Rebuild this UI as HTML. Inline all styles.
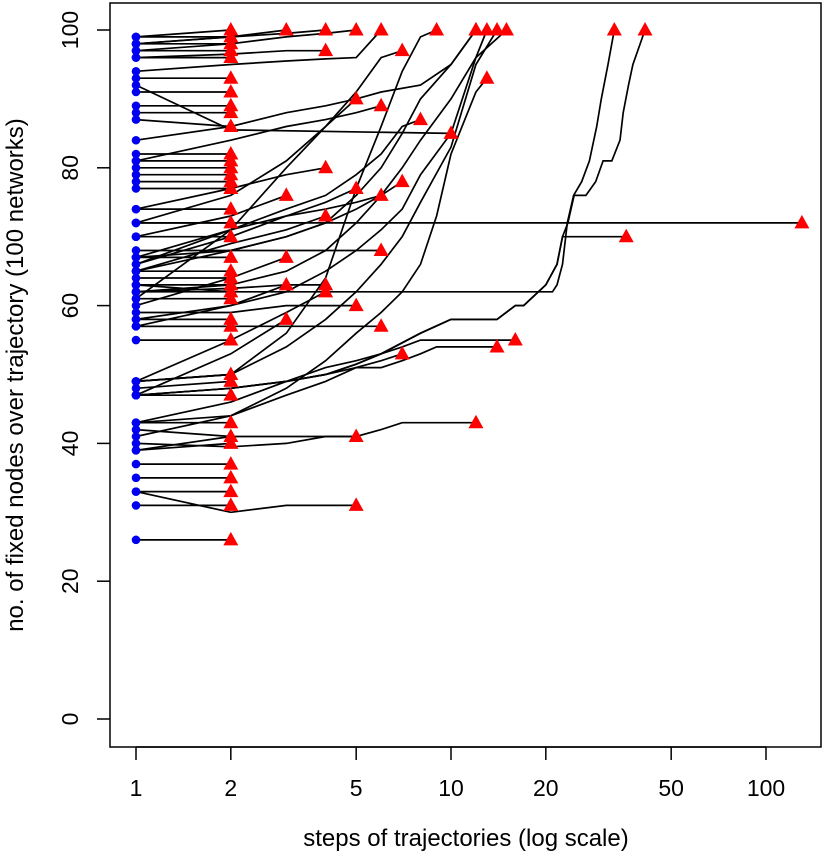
<!DOCTYPE html>
<html><head><meta charset="utf-8"><style>
html,body{margin:0;padding:0;background:#fff;}
svg{display:block;font-family:"Liberation Sans",Arial,sans-serif;}
</style></head><body>
<svg id="chart" width="827" height="857" viewBox="0 0 827 857" xmlns="http://www.w3.org/2000/svg">
<rect x="110" y="3" width="711" height="744" fill="none" stroke="#000" stroke-width="1.5"/>
<g id="axes"></g>
<g id="lines"></g>
<g id="marks"></g>
<text x="466" y="846" font-size="24" text-anchor="middle">steps of trajectories (log scale)</text>
<text transform="translate(23,375) rotate(-90)" font-size="24" text-anchor="middle">no. of fixed nodes over trajectory (100 networks)</text>
</svg>
<script>
const xTicks = [1, 2, 5, 10, 20, 50, 100];
const yTicks = [0, 20, 40, 60, 80, 100];
const trajectories = [
 [[1,99],[2,100]],[[1,98],[2,98]],[[1,97],[2,97]],[[1,96],[2,96]],[[1,93],[2,93]],
 [[1,91],[2,91]],[[1,89],[2,89]],[[1,88],[2,88]],[[1,87],[2,86]],[[1,82],[2,82]],
 [[1,81],[2,81]],[[1,80],[2,80]],[[1,79],[2,79]],[[1,78],[2,78]],[[1,77],[2,77]],
 [[1,74],[2,74]],[[1,72],[2,72]],[[1,70],[2,70]],[[1,67],[2,67]],[[1,65],[2,65]],
 [[1,64],[2,64]],[[1,63],[2,63]],[[1,62],[2,62]],[[1,61],[2,61]],[[1,58],[2,58]],
 [[1,57],[2,57]],[[1,55],[2,55]],[[1,49],[2,50]],[[1,48],[2,49]],[[1,47],[2,47]],
 [[1,43],[2,43]],[[1,42],[2,41]],[[1,39],[2,40]],[[1,37],[2,37]],[[1,35],[2,35]],
 [[1,33],[2,33]],[[1,31],[2,31]],[[1,26],[2,26]],[[1,99],[2,99]],[[1,98],[2,99],[3,100]],
 [[1,98],[2,99],[3,99.5],[4,100]],[[1,97],[2,98],[3,99],[4,99.5],[5,100]],
 [[1,94],[2,95],[3,95.5],[4,95.8],[5,96],[6,100]],[[1,96],[2,96.5],[3,97],[4,97]],
 [[1,49],[2,50],[3,56],[4,64],[5,77],[6,86],[7,94],[8,99],[9,100]],
 [[1,84],[2,86],[3,88],[4,89],[5,90],[6,91],[8,92],[10,95],[12,100]],
 [[1,67],[2,68],[3,70],[4,72],[5,76],[6,80],[7,85],[8,90],[10,95],[12,100]],
 [[1,62],[2,63],[3,65],[4,68],[5,72],[6,76],[7,80],[8,84],[10,90],[12,96],[13,100]],
 [[1,49],[2,50],[3,54],[4,58],[5,62],[6,66],[7,70],[8,75],[10,83],[12,95],[14,100]],
 [[1,58],[2,60],[3,62],[4,65],[5,68],[6,71],[7,74],[8,79],[10,85],[12,96],[15,100]],
 [[1,43],[2,44],[3,48],[4,52],[5,56],[6,59],[7,62],[8,66],[9,73],[10,82],[12,91],[13,93]],
 [[1,92],[2,85.5],[10,85]],
 [[1,66],[2,71],[3,74],[4,76],[5,79],[6,82],[7,86],[8,87]],
 [[1,81],[2,84],[3,86],[4,87],[5,88],[6,89]],
 [[1,61],[2,71],[3,80],[4,86],[5,90]],
 [[1,72],[2,76],[3,81],[4,86],[5,91],[6,96],[7,97]],
 [[1,70],[2,73],[3,76]],[[1,60],[2,64],[3,67]],[[1,57],[2,60],[3,63]],[[1,47],[2,53],[3,58]],
 [[1,74],[2,77],[3,79],[4,80]],[[1,65],[2,69],[3,71],[4,73]],[[1,62],[2,62.5],[3,63],[4,63]],
 [[1,49],[2,55],[3,59],[4,62]],[[1,66],[2,70],[3,73],[4,75],[5,77]],
 [[1,59],[2,59],[3,60],[4,60],[5,60]],[[1,39],[2,41],[3,41],[5,41]],
 [[1,67],[2,71],[3,73],[4,74],[5,75],[6,76]],[[1,68],[6,68]],[[1,57],[6,57]],
 [[1,65],[2,68],[3,70],[4,72],[5,74],[6,76],[7,78]],
 [[1,41],[2,44],[3,47],[4,49],[5,51],[6,52],[7,53]],
 [[1,40],[2,39.5],[3,40],[4,41],[5,41],[6,42],[7,43],[12,43]],
 [[1,47],[2,48],[3,49],[4,50],[5,51],[6,51],[7,52],[8,53],[9,54],[14,54]],
 [[1,43],[2,46],[3,49],[4,51],[5,52],[6,53],[7,54],[8,55],[16,55]],
 [[1,33],[2,30],[3,31],[5,31]],
 [[1,72],[130,72]],
 [[1,63],[2,62],[21,62],[21.7,63],[22.6,66],[23.4,72],[24.5,76],[26,78],[27.5,81],[29,86],[30,90],[31.5,95],[33,100]],
 [[1,47],[2,48],[3,49],[4,50],[5,51.5],[6,53],[8,56],[10,58],[14,58],[16,60],[17,60],[20,63],[21.7,66],[22.6,70],[36,70]],
 [[1,47],[2,48],[3,49],[4,50],[5,51.5],[6,53],[8,56],[10,58],[14,58],[16,60],[17,60],[20,63],[21.7,66],[22.6,70],[23.5,72],[24.6,76],[26.8,76],[28.8,78],[30.4,81],[32.4,81],[34.4,84],[35.2,88],[36.6,92],[37.8,95],[41.3,100]]
];
const X0 = 136, DEC = 315, Y0 = 719, YU = 6.89;
function sx(s){ return X0 + DEC*Math.log10(s); }
function sy(v){ return Y0 - YU*v; }
const NS = "http://www.w3.org/2000/svg";
const axes = document.getElementById('axes');
const lines = document.getElementById('lines');
const marks = document.getElementById('marks');
function mk(tag, attrs, parent){ const e=document.createElementNS(NS,tag); for(const k in attrs) e.setAttribute(k, attrs[k]); parent.appendChild(e); return e; }
xTicks.forEach(t=>{
  const x = sx(t);
  const tk = mk('line',{x1:x,x2:x,y1:747,y2:760,stroke:'#000','stroke-width':1.5},axes);
  
  
  const lb = mk('text',{x:x,y:796,'font-size':23,'text-anchor':'middle'},axes);
  lb.textContent = t;
  
  
});
mk('line',{x1:sx(1),x2:sx(100),y1:747,y2:747,stroke:'#000','stroke-width':1.5},axes);
yTicks.forEach(t=>{
  const y = sy(t);
  const tk = mk('line',{x1:97,x2:110,y1:y,y2:y,stroke:'#000','stroke-width':1.5},axes);
  
  
  const lb = mk('text',{transform:'translate(78,'+y+') rotate(-90)','font-size':23,'text-anchor':'middle'},axes);
  lb.textContent = t;
  
  
});
trajectories.forEach(tr=>{
  const pts = tr.map(p=>sx(p[0]).toFixed(1)+','+sy(p[1]).toFixed(1)).join(' ');
  const pl = mk('polyline',{points:pts,fill:'none',stroke:'#000','stroke-width':1.7},lines);
  
  
});
trajectories.forEach(tr=>{
  const a = tr[0], b = tr[tr.length-1];
  const c = mk('circle',{cx:sx(a[0]),cy:sy(a[1]),r:4.3,fill:'#0000ee'},marks);
  
  
  const x = sx(b[0]), y = sy(b[1]);
  const t = mk('polygon',{points:(x-7.5)+','+(y+5.5)+' '+(x+7.5)+','+(y+5.5)+' '+x+','+(y-8)},marks);
  t.setAttribute('fill', '#ff0000');
  
  
});
</script>
</body></html>
